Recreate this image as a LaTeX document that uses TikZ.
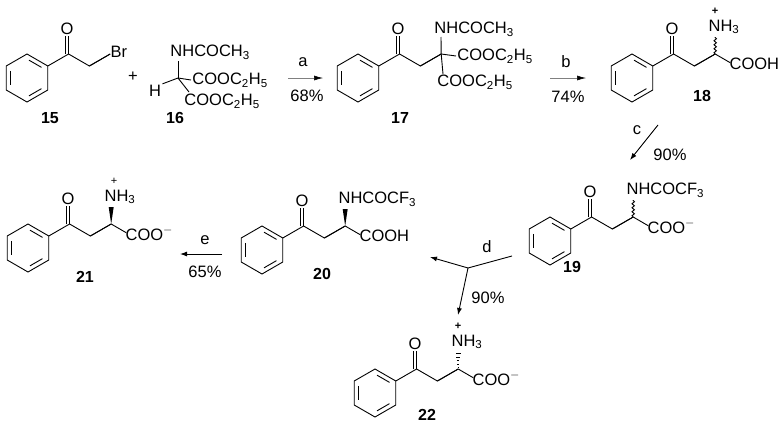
\documentclass[tikz,border=0pt]{standalone}
\usepackage{fontspec}
\setmainfont{Liberation Sans}
\usetikzlibrary{arrows.meta,calc,decorations.pathmorphing}

% ring plus keto chain: #1 prefix, #2 centre
\newcommand{\ketochain}[2]{%
\begin{scope}[shift={#2}]
\draw (-30:24) -- (-90:24) -- (-150:24) -- (150:24) -- (90:24) -- (30:24) -- cycle;
\draw ($(-150:19)!.12!(150:19)$) -- ($(-150:19)!.88!(150:19)$);
\draw ($(-90:19)!.12!(-30:19)$) -- ($(-90:19)!.88!(-30:19)$);
\draw ($(90:19)!.12!(30:19)$) -- ($(90:19)!.88!(30:19)$);
\coordinate (#1v) at (-30:24);
\end{scope}
\coordinate (#1co) at ($(#1v)+(20.8,-12)$);
\coordinate (#1o) at ($(#1co)+(0,-18)$);
\coordinate (#1ch2) at ($(#1co)+(20.8,12)$);
\coordinate (#1ch) at ($(#1ch2)+(20.8,-12)$);
\coordinate (#1end) at ($(#1ch)+(15,8.7)$);
\draw (#1v) -- (#1co) -- (#1ch2) -- (#1ch);
\draw (#1co) -- (#1o);
\draw ($(#1co)+(-3.5,0)$) -- ($(#1o)+(-3.5,0)$);
\node[txt] (#1O) at ($(#1o)+(-1.5,-7)$) {O};
}

\begin{document}
\begin{tikzpicture}[x=1pt,y=-1pt,line width=0.9pt,
  txt/.style={inner sep=1pt,font=\fontsize{16.5}{16.5}\selectfont},
  grp/.style={txt,anchor=west},
  lbl/.style={inner sep=1pt,font=\fontsize{16}{16}\selectfont\bfseries},
  chg/.style={inner sep=0pt,font=\fontsize{11}{11}\selectfont},
  rxn/.style={-{Latex[length=7pt,width=5pt]}},
  rxngray/.style={draw=gray,line width=0.6pt,-{Latex[length=9pt,width=5pt,color=black]}},
  wavy/.style={decorate,decoration={snake,amplitude=1.2pt,segment length=4pt}}]
\useasboundingbox (0,0) rectangle (781,426);

% 15
\ketochain{a}{(27,78)}
\draw (ach2) -- (ach);
\node[grp] (br) at ($(ach)+(-1,-2)$) {Br};
\node[lbl] (l15) at (50,118) {15};
\node[txt] (plus) at (133,77) {+};

% 16
\coordinate (c16) at (178,78);
\node[grp] (n16) at (169,52) {NHCOCH\textsubscript{3}};
\node[grp] (e16a) at (191,80) {COOC\textsubscript{2}H\textsubscript{5}};
\node[grp] (e16b) at (183,101) {COOC\textsubscript{2}H\textsubscript{5}};
\node[txt] (h16) at (155,91) {H};
\draw (c16) -- (178,61);
\draw (c16) -- (e16a.west);
\draw (c16) -- (189,92);
\draw (c16) -- (h16.north east);
\node[lbl] (l16) at (175,118) {16};

% arrow a
\coordinate (a1) at (288,78);
\coordinate (a2) at (323,78);
\draw[rxngray] (a1) -- (a2);
\node[txt] (ta) at (303,62) {a};
\node[txt] (ya) at (307,96) {68\%};

% 17
\ketochain{b}{(358,78)}
\draw (bch2) -- (bch);
\node[grp] (n17) at (433,29) {NHCOCH\textsubscript{3}};
\node[grp] (e17a) at (456,56) {COOC\textsubscript{2}H\textsubscript{5}};
\node[grp] (e17b) at (436,82) {COOC\textsubscript{2}H\textsubscript{5}};
\draw (bch) -- (441,37);
\draw (bch) -- (e17a.west);
\draw (bch) -- (443,74);
\node[lbl] (l17) at (400,118) {17};

% arrow b
\coordinate (b1) at (550,78);
\coordinate (b2) at (586,78);
\draw[rxngray] (b1) -- (b2);
\node[txt] (tb) at (566,62) {b};
\node[txt] (yb) at (568,97) {74\%};

% 18
\ketochain{c}{(632,78)}
\draw (cch2) -- (cch);
\draw[wavy] (cch) -- ($(cch)+(0,-17)$);
\draw (cch) -- (cend);
\node[grp] (n18) at ($(cch)+(-8,-27)$) {NH\textsubscript{3}};
\node[chg] (p18) at ($(cch)+(0,-43)$) {\textbf{+}};
\node[grp] (cooh18) at ($(cend)+(-2,1)$) {COOH};
\node[lbl] (l18) at (702,96) {18};

% arrow c
\coordinate (c1) at (658,125);
\coordinate (c2) at (630,160);
\draw[rxn] (c1) -- (c2);
\node[txt] (tc) at (637,130) {c};
\node[txt] (yc) at (670,155) {90\%};

% 19
\ketochain{d}{(550,241)}
\draw (dch2) -- (dch);
\draw[wavy] (dch) -- ($(dch)+(0,-17)$);
\draw (dch) -- (dend);
\node[grp] (n19) at ($(dch)+(-8,-27)$) {NHCOCF\textsubscript{3}};
\node[grp] (coo19) at ($(dend)+(-2,1)$) {COO\textsuperscript{$-$}};
\node[lbl] (l19) at (572,267) {19};

% arrow d
\coordinate (d0) at (512,256);
\coordinate (d1) at (468,268);
\coordinate (d2) at (430,257);
\coordinate (d3) at (458,315);
\draw (d0) -- (d1);
\draw[rxn] (d1) -- (d2);
\draw[rxn] (d1) -- (d3);
\node[txt] (td) at (487,247) {d};
\node[txt] (yd) at (488,298) {90\%};

% 20
\ketochain{e}{(262,250)}
\draw (ech2) -- (ech);
\fill ($(ech)$) -- ($(ech)+(-2.5,-17)$) -- ($(ech)+(2.5,-17)$) -- cycle;
\draw (ech) -- (eend);
\node[grp] (n20) at ($(ech)+(-8,-27)$) {NHCOCF\textsubscript{3}};
\node[grp] (cooh20) at ($(eend)+(-2,1)$) {COOH};
\node[lbl] (l20) at (322,274) {20};

% arrow e
\coordinate (e1) at (222,254);
\coordinate (e2) at (180,254);
\draw[rxn] (e1) -- (e2);
\node[txt] (te) at (205,240) {e};
\node[txt] (ye) at (205,272) {65\%};

% 21
\ketochain{f}{(28,248)}
\draw (fch2) -- (fch);
\fill ($(fch)$) -- ($(fch)+(-2.5,-17)$) -- ($(fch)+(2.5,-17)$) -- cycle;
\draw (fch) -- (fend);
\node[grp] (n21) at ($(fch)+(-8,-27)$) {NH\textsubscript{3}};
\node[chg] (p21) at ($(fch)+(3,-43)$) {+};
\node[grp] (coo21) at ($(fend)+(-2,1)$) {COO\textsuperscript{$-$}};
\node[lbl] (l21) at (85,277) {21};

% 22
\ketochain{g}{(375,393)}
\draw (gch2) -- (gch);
\foreach \t in {0.1,0.3,...,0.95}
  \draw[line width=0.7pt] ($(gch)+(-2.6*\t,-17*\t)$) -- ($(gch)+(2.6*\t,-17*\t)$);
\draw (gch) -- (gend);
\node[grp] (n22) at ($(gch)+(-8,-27)$) {NH\textsubscript{3}};
\node[chg] (p22) at ($(gch)+(0,-43)$) {\textbf{+}};
\node[grp] (coo22) at ($(gend)+(-2,1)$) {COO\textsuperscript{$-$}};
\node[lbl] (l22) at (427,415) {22};
\end{tikzpicture}
\end{document}
